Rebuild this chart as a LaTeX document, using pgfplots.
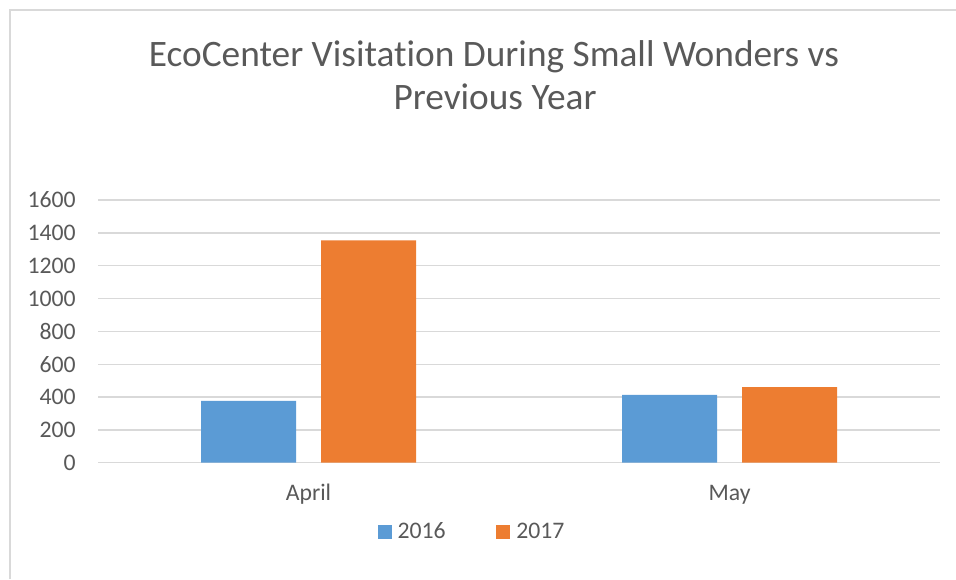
\documentclass[border=0pt]{standalone}
\usepackage{pgfplots}
\pgfplotsset{compat=1.18}
\usepackage{fontspec}
\setmainfont{Carlito}[Ligatures=NoCommon]
\definecolor{tgray}{HTML}{595959}
\definecolor{ggray}{HTML}{D9D9D9}
\definecolor{cblue}{HTML}{5B9BD5}
\definecolor{corange}{HTML}{ED7D31}
\begin{document}
\begin{tikzpicture}[x=0.75pt,y=0.75pt]
\useasboundingbox (0,0) rectangle (956,579);
\draw[ggray,line width=1.1pt] (10,0) -- (10,569) -- (956,569);
\node[anchor=base,text=tgray,font=\fontsize{28pt}{33pt}\selectfont,inner sep=0pt] at (494,512) {EcoCenter Visitation During Small Wonders vs};
\node[anchor=base,text=tgray,font=\fontsize{28pt}{33pt}\selectfont,inner sep=0pt] at (495,469.5) {Previous Year};
\begin{axis}[
  at={(73.5pt,87.2pt)}, anchor=south west,
  scale only axis, width=631.5pt, height=197pt,
  xmin=-0.5, xmax=1.5, ymin=0, ymax=1600,
  ytick={0,200,...,1600},
  xtick={0,1}, xticklabels={April,May},
  ybar=18.75pt, bar width=71.25pt,
  axis line style={draw=none},
  major tick length=0pt,
  ymajorgrids, grid style={ggray,line width=1.1pt},
  /pgf/number format/assume math mode=true,
  /pgf/number format/1000 sep={},
  tick label style={text=tgray,font=\fontsize{17.8pt}{21pt}\selectfont},
  yticklabel style={anchor=east,inner sep=0pt,xshift=-16.5pt},
  xticklabel style={anchor=base,inner sep=0pt,yshift=-28.5pt},
  legend style={draw=none,fill=none,at={(0.443,-0.263)},anchor=center,
    legend columns=2,font=\fontsize{17.8pt}{21pt}\selectfont,text=tgray,
    nodes={inner sep=0pt},
    /tikz/every even column/.append style={column sep=38pt}},
  legend image code/.code={\fill[#1,draw=none] (0pt,-5.25pt) rectangle (10.5pt,5.25pt);},
  legend cell align=left,
]
\addplot[fill=cblue,draw=none] coordinates {(0,377) (1,414)};
\addplot[fill=corange,draw=none] coordinates {(0,1355) (1,461)};
\legend{\hspace{4.5pt}2016,\hspace{4.5pt}2017}
\end{axis}
\end{tikzpicture}
\end{document}
